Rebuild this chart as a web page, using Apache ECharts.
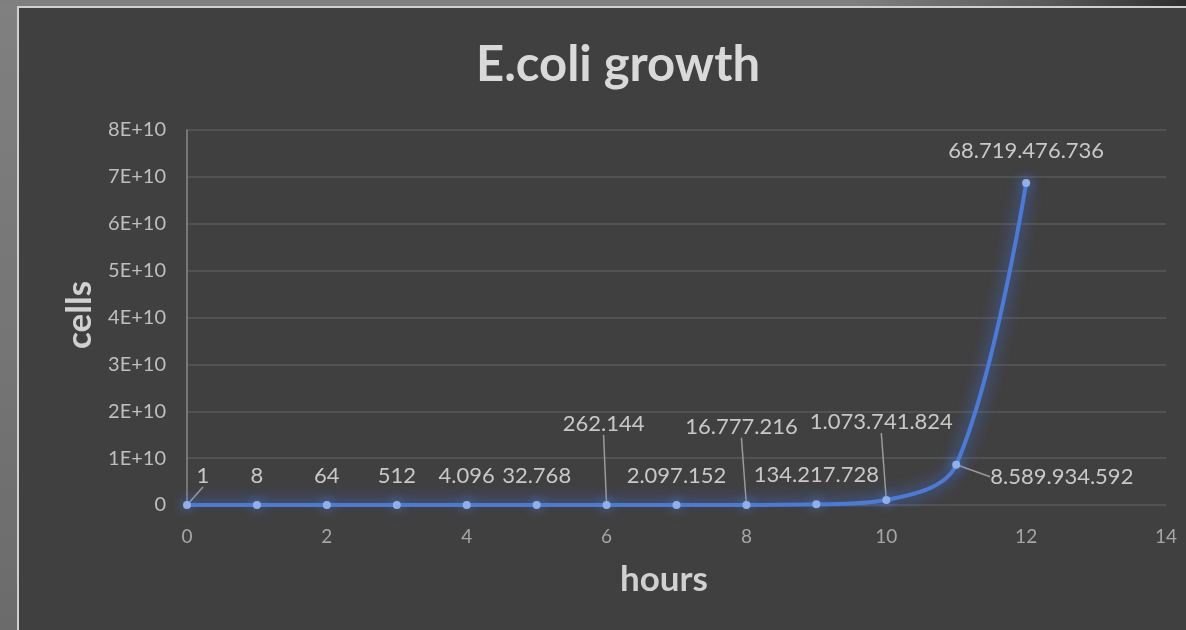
<!DOCTYPE html>
<html>
<head>
<meta charset="utf-8">
<script src="https://cdn.jsdelivr.net/npm/echarts@6/dist/echarts.min.js"></script>
<style>
html,body{margin:0;padding:0;width:1186px;height:630px;overflow:hidden;}
body{background:linear-gradient(to right,#7f7f7f 0%,#7f7f7f 72%,#5a5a5a 88%,#2e2e2e 100%);}
#frame{position:absolute;left:17px;top:6px;width:1169px;height:624px;background:#404040;border-left:2px solid #cfcfcf;border-top:2px solid #cfcfcf;box-sizing:border-box;}
#side{position:absolute;left:0;top:6px;width:17px;height:624px;background:linear-gradient(to bottom,#808080,#6b6b6b);}
#chart{position:absolute;left:0;top:0;width:1186px;height:630px;}
</style>
</head>
<body>
<div id="side"></div>
<div id="frame"></div>
<div id="chart"></div>
<script>
const titleText = 'E.coli growth';
const xName = 'hours';
const yName = 'cells';
const hours = [0,1,2,3,4,5,6,7,8,9,10,11,12];
const cells = [1,8,64,512,4096,32768,262144,2097152,16777216,134217728,1073741824,8589934592,68719476736];
const xTicks = [0,2,4,6,8,10,12,14];
const yTickLabels = ['0','1E+10','2E+10','3E+10','4E+10','5E+10','6E+10','7E+10','8E+10'];

function fmt(v){ return String(v).replace(/\B(?=(\d{3})+(?!\d))/g,'.'); }

// label placement tweaks (index -> offsets / leader line)
const labelOffsets = {0:{dx:16,dy:0},6:{dx:-3,dy:-52},8:{dx:-5,dy:-49},10:{dx:-5,dy:-49},11:{dx:0,dy:12},12:{dx:0,dy:-3}};
const leaderIdx = [0,6,8,10,11];

const chart = echarts.init(document.getElementById('chart'));
const font = 'Lato, "Open Sans", sans-serif';
chart.setOption({
  backgroundColor:'transparent',
  animation:false,
  textStyle:{fontFamily:font},
  title:{text:titleText,left:613,top:36,textAlign:'center',
    textStyle:{color:'#d9d9d9',fontSize:49,fontWeight:'bold',fontFamily:font}},
  graphic:[
    {type:'text',x:664,y:580,style:{text:xName,fill:'#d0d0d0',font:'bold 35px '+font,textAlign:'center',textVerticalAlign:'middle'}},
    {type:'text',x:80,y:315,rotation:Math.PI/2,style:{text:yName,fill:'#d0d0d0',font:'bold 35px '+font,textAlign:'center',textVerticalAlign:'middle'}}
  ],
  grid:{left:187,right:20,top:130,bottom:125},
  xAxis:{type:'value',min:0,max:14,interval:2,
    axisLine:{show:false},axisTick:{show:false},splitLine:{show:false},
    axisLabel:{color:'#a6a6a6',fontSize:19,margin:22,fontFamily:font,
      formatter:v=>xTicks.includes(v)?String(v):''}},
  yAxis:{type:'value',min:0,max:8e10,interval:1e10,
    axisLine:{show:true,lineStyle:{color:'#8a8a8a',width:1.5}},axisTick:{show:false},
    splitLine:{lineStyle:{color:'#585858',width:1.5}},
    axisLabel:{color:'#bfbfbf',fontSize:20,margin:21,fontFamily:font,
      formatter:(v)=>yTickLabels[Math.round(v/1e10)]}},
  series:[{
    type:'line',
    data:hours.map((h,i)=>{
      const d = {value:[h,cells[i]]};
      d.labelLine = {show:leaderIdx.includes(i)};
      if(i===11) d.label = {position:'right',distance:30};
      return d;
    }),
    smooth:0.35,
    symbol:'circle',symbolSize:8,
    itemStyle:{color:'#8fb0ec',shadowColor:'rgba(80,130,230,0.95)',shadowBlur:12},
    lineStyle:{color:'#4a7bd8',width:4,shadowColor:'rgba(70,120,240,1)',shadowBlur:16},
    label:{show:true,position:'top',distance:14,color:'#c8c8c8',fontSize:22,fontFamily:font,
      formatter:p=>fmt(p.value[1])},
    labelLine:{show:true,lineStyle:{color:'#9a9a9a',width:1.5}},
    labelLayout:function(p){
      const o = labelOffsets[p.dataIndex];
      return o ? {dx:o.dx,dy:o.dy} : {};
    }
  }]
});
</script>
</body>
</html>
